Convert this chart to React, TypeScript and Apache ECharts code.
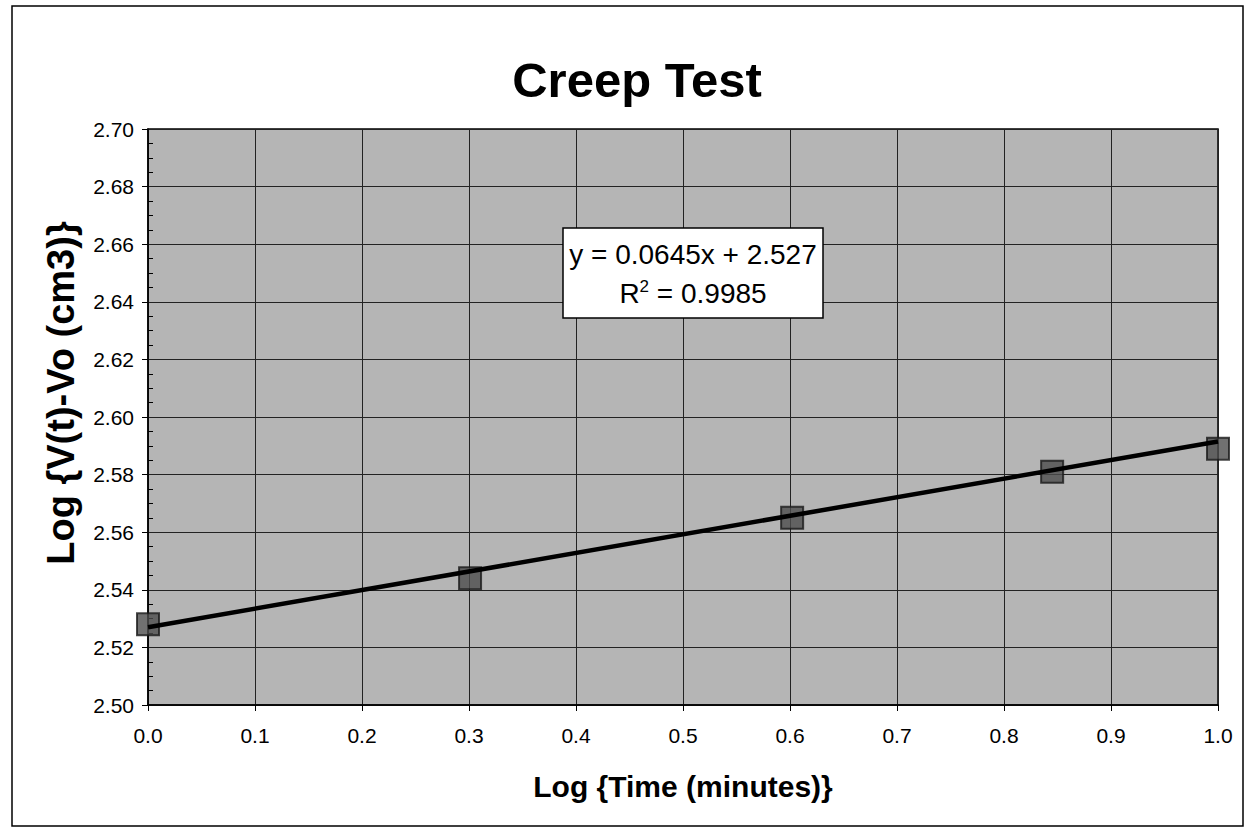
import React, { useEffect, useRef } from "react";
import * as echarts from "echarts";

const titleText = "Creep Test";
const xAxisName = "Log {Time (minutes)}";
const yAxisName = "Log {V(t)-Vo (cm3)}";
const logTime = [0.0, 0.301, 0.602, 0.845, 1.0];
const logVolume = [2.528, 2.544, 2.565, 2.581, 2.589];
const trendSlope = 0.0645;
const trendIntercept = 2.527;
const trendX = [0.0, 1.0];
const rSquared = "0.9985";

export default function App() {
  const ref = useRef<HTMLDivElement>(null);
  useEffect(() => {
    if (!ref.current) return;
    const chart = echarts.init(ref.current, undefined, { renderer: "svg" });
    const font = "'Liberation Sans', Arial, sans-serif";
    const points = logTime.map((x, i) => [x, logVolume[i]]);
    const trend = trendX.map((x) => [x, trendSlope * x + trendIntercept]);
    chart.setOption({
      animation: false,
      backgroundColor: "#ffffff",
      title: {
        text: titleText,
        left: 632,
        top: 50,
        textAlign: "center",
        textStyle: { fontFamily: font, fontSize: 49, fontWeight: "bold", color: "#000" },
      },
      grid: {
        left: 148,
        right: 26,
        top: 129,
        bottom: 123,
        show: true,
        backgroundColor: "#b5b5b5",
        borderColor: "#000",
        borderWidth: 1.5,
      },
      xAxis: {
        type: "value",
        min: 0,
        max: 1,
        interval: 0.1,
        name: xAxisName,
        nameLocation: "middle",
        nameGap: 66,
        nameTextStyle: { fontFamily: font, fontSize: 30, fontWeight: "bold", color: "#000" },
        axisLine: { show: true, lineStyle: { color: "#000", width: 1.5 } },
        axisTick: { show: true, length: 6, lineStyle: { color: "#000" } },
        axisLabel: {
          fontFamily: font,
          fontSize: 21,
          color: "#000",
          margin: 20,
          formatter: (v: number) => v.toFixed(1),
        },
        splitLine: { show: true, lineStyle: { color: "#222", width: 1 } },
      },
      yAxis: {
        type: "value",
        min: 2.5,
        max: 2.7,
        interval: 0.02,
        axisLine: { show: true, lineStyle: { color: "#000", width: 1.5 } },
        axisTick: { show: true, length: 6, lineStyle: { color: "#000" } },
        minorTick: { show: true, splitNumber: 4, length: -5, lineStyle: { color: "#000" } },
        axisLabel: {
          fontFamily: font,
          fontSize: 21,
          color: "#000",
          margin: 14,
          formatter: (v: number) => v.toFixed(2),
        },
        splitLine: { show: true, lineStyle: { color: "#222", width: 1 } },
      },
      series: [
        {
          type: "scatter",
          data: points,
          symbol: "rect",
          symbolSize: 22,
          itemStyle: { color: "#4e4e4e", borderColor: "#1a1a1a", borderWidth: 2 },
          z: 2,
        },
        {
          type: "line",
          data: trend,
          showSymbol: false,
          symbol: "none",
          lineStyle: { color: "#000", width: 4.5 },
          z: 3,
        },
      ],
      graphic: [
        {
          type: "rect",
          shape: { x: 12, y: 6, width: 1231, height: 820 },
          style: { fill: "none", stroke: "#000", lineWidth: 1.5 },
          silent: true,
        },
        {
          type: "text",
          x: 61,
          y: 393,
          rotation: Math.PI / 2,
          style: {
            text: yAxisName,
            fontFamily: font,
            fontSize: 38,
            fontWeight: "bold",
            fill: "#000",
            align: "center",
            verticalAlign: "middle",
          },
        },
        {
          type: "rect",
          shape: { x: 563, y: 228, width: 260, height: 90 },
          style: { fill: "#fff", stroke: "#000", lineWidth: 1.5 },
          z: 100,
        },
        {
          type: "text",
          x: 693,
          y: 254,
          z: 101,
          style: {
            text: `y = ${trendSlope}x + ${trendIntercept}`,
            fontFamily: font,
            fontSize: 28,
            fill: "#000",
            align: "center",
            verticalAlign: "middle",
          },
        },
        {
          type: "text",
          x: 693,
          y: 293,
          z: 101,
          style: {
            text: `{a|R}{s|2}{a| = ${rSquared}}`,
            align: "center",
            verticalAlign: "middle",
            rich: {
              a: { fontFamily: font, fontSize: 28, color: "#000" },
              s: { fontFamily: font, fontSize: 17, color: "#000", verticalAlign: "top", padding: [0, 0, 14, 0] },
            },
          },
        },
      ],
    });
    return () => chart.dispose();
  }, []);
  return (
    <div
      ref={ref}
      style={{ position: "fixed", left: 0, top: 0, width: 1244, height: 828 }}
    />
  );
}
